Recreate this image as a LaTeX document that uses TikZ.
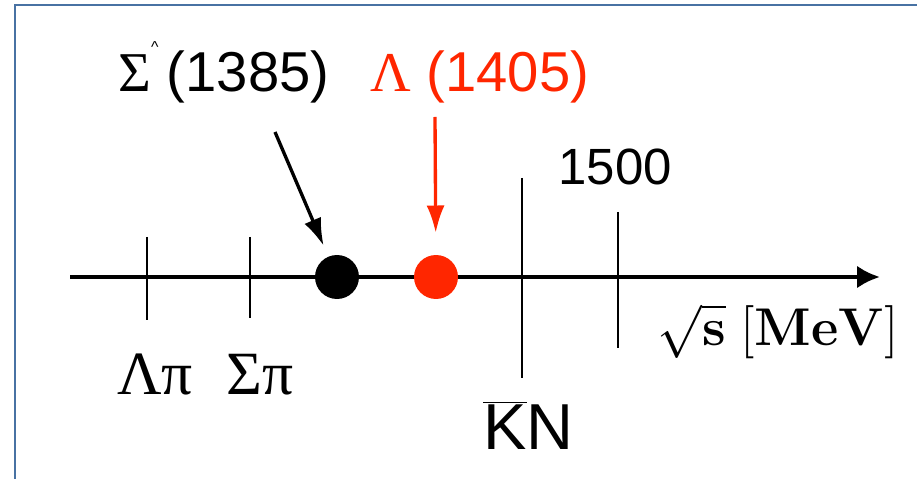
\documentclass[tikz,border=0pt]{standalone}
\usepackage[no-math]{fontspec}
\setmainfont{Liberation Sans}
\newfontfamily\greekserif{Liberation Serif}
\usetikzlibrary{arrows.meta}
\definecolor{framecol}{RGB}{72,114,163}
\definecolor{resred}{RGB}{255,38,0}

\begin{document}
\begin{tikzpicture}[x=0.02cm, y=-0.02cm,
        axis/.style={line width=2.8pt, -{Latex[length=0.46cm, width=0.46cm]}},
        tick/.style={line width=1.1pt},
        pointer/.style={line width=1.9pt, -{Latex[length=0.55cm, width=0.36cm]}},
        dot/.style={circle, inner sep=0pt, outer sep=0pt, minimum size=0.88cm},
        lbl/.style={inner sep=0pt, anchor=base west}]
        \useasboundingbox (0,0) rectangle (917,479);

        % Frame
        \draw[framecol, line width=1.2pt] (917,5) -- (15,5) -- (15,479);

        % Axis
        \coordinate (axstart) at (70,277);
        \coordinate (axend) at (880,277);
        \draw[axis] (axstart) -- (axend);

        % Thresholds
        \draw[tick] (147,237) -- (147,320);
        \draw[tick] (250,237) -- (250,318);
        \draw[tick] (522,178) -- (522,378);
        \draw[tick] (618,212) -- (618,348);

        % Resonances
        \node[dot, fill=black] (sigdot) at (337,277) {};
        \node[dot, fill=resred] (lamdot) at (436,277) {};

        % Labels
        \node[lbl] (siglbl) at (118,92) {\fontsize{32}{36}\selectfont{\greekserif Σ}\raisebox{0.7em}{\fontsize{9}{10}\selectfont\^{}}\hspace{0.15em}(1385)};
        \node[lbl, text=resred] (lamlbl) at (370,92) {\fontsize{32}{36}\selectfont{\greekserif Λ} (1405)};
        \node[lbl] (e1500) at (558,185) {\fontsize{29}{32}\selectfont 1500};
        \node[lbl] (lampi) at (117,395) {\fontsize{35}{38}\selectfont\greekserif Λπ};
        \node[lbl] (sigpi) at (226,395) {\fontsize{35}{38}\selectfont\greekserif Σπ};
        \node[lbl] (kbarn) at (483,450) {\fontsize{37}{40}\selectfont$\overline{\mbox{K}}$N};
        \node[lbl, scale=2.1] (sqrts) at (657,346) {\fontsize{14.4}{17}\selectfont$\sqrt{\mathbf{s}}\ [\mathbf{MeV}]$};

        % Pointers
        \coordinate (sigtail) at (275,132);
        \coordinate (lamtail) at (435,117);
        \draw[pointer, shorten >=0.24cm] (sigtail) -- (sigdot);
        \draw[pointer, resred, shorten >=0.44cm] (lamtail) -- (lamdot);
\end{tikzpicture}
\end{document}
